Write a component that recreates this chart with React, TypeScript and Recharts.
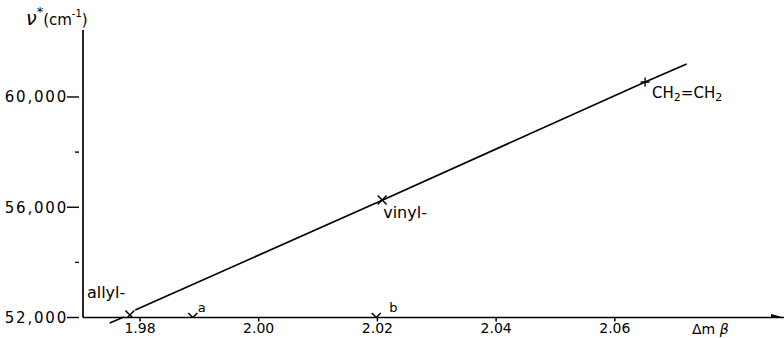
import {
  ComposedChart,
  Line,
  Scatter,
  XAxis,
  YAxis,
  ReferenceLine,
} from "recharts";

// correlation line (Δmβ vs ν*)
const curveX = [1.9792, 2.0209, 2.0651, 2.0721];
const curveY = [52272, 56263, 60544, 61197];

// marked compounds
const markNames = ["allyl-", "a", "b", "vinyl-", "CH2=CH2"];
const markX = [1.9783, 1.9889, 2.0198, 2.0208, 2.0651];
const markY = [52090, 52000, 52000, 56263, 60545];
const markSymbol = ["x", "x", "x", "x", "+"];

const xTicks = [1.98, 2.0, 2.02, 2.04, 2.06];
const yTicks = [52000, 56000, 60000];
const yMinorTicks = [54000, 58000];

const FONT = "'DejaVu Sans', sans-serif";

const curve = curveX.map((x, i) => ({ x, y: curveY[i] }));
const marks = markX.map((x, i) => ({
  x,
  y: markY[i],
  name: markNames[i],
  sym: markSymbol[i],
}));
const arrowTip = [{ x: 2.0885, y: 52000 }];

// label offsets from the marker, in px
const labelPos: Record<string, { dx: number; dy: number; size: number }> = {
  "allyl-": { dx: -43, dy: -17, size: 16 },
  a: { dx: 5, dy: -6, size: 13 },
  b: { dx: 13, dy: -6, size: 13 },
  "vinyl-": { dx: 1, dy: 18, size: 16 },
  "CH2=CH2": { dx: 7, dy: 16, size: 15 },
};

const MarkShape = (props: any) => {
  const { cx, cy, payload } = props;
  if (cx == null || cy == null) return null;
  const s = 4.5;
  const pos = labelPos[payload.name];
  const glyph =
    payload.sym === "+" ? (
      <g stroke="#000" strokeWidth={1.4}>
        <line x1={cx - s} y1={cy} x2={cx + s} y2={cy} />
        <line x1={cx} y1={cy - s} x2={cx} y2={cy + s} />
      </g>
    ) : (
      <g stroke="#000" strokeWidth={1.5}>
        <line x1={cx - s} y1={cy - s} x2={cx + s} y2={cy + s} />
        <line x1={cx - s} y1={cy + s} x2={cx + s} y2={cy - s} />
      </g>
    );
  let label;
  if (payload.name === "CH2=CH2") {
    label = (
      <text x={cx + pos.dx} y={cy + pos.dy} fontSize={pos.size} fontFamily={FONT} fill="#000">
        CH
        <tspan fontSize={11} dy={3}>2</tspan>
        <tspan dy={-3}>=CH</tspan>
        <tspan fontSize={11} dy={3}>2</tspan>
      </text>
    );
  } else {
    label = (
      <text x={cx + pos.dx} y={cy + pos.dy} fontSize={pos.size} fontFamily={FONT} fill="#000">
        {payload.name}
      </text>
    );
  }
  return (
    <g>
      {glyph}
      {label}
    </g>
  );
};

const ArrowShape = (props: any) => {
  const { cx, cy } = props;
  if (cx == null || cy == null) return null;
  return <path d={`M${cx},${cy} L${cx - 13},${cy - 3.5} L${cx - 13},${cy + 3.5} Z`} fill="#000" />;
};

const YTick = (props: any) => {
  const { x, y, payload } = props;
  const major = yTicks.includes(payload.value);
  const axisX = x + 4;
  return (
    <g>
      <line
        x1={axisX - (major ? 12 : 4)}
        y1={y}
        x2={axisX}
        y2={y}
        stroke="#000"
        strokeWidth={1.4}
      />
      {major && (
        <text
          x={axisX - 11}
          y={y}
          dy="0.36em"
          textAnchor="end"
          fontSize={15}
          fontFamily={FONT}
          letterSpacing={1.8}
          fill="#000"
        >
          {payload.value.toLocaleString("en-US")}
        </text>
      )}
    </g>
  );
};

const YTitle = () => (
  <text x={26} y={25} fontFamily={FONT} fontSize={15} fill="#000">
    <tspan fontSize={19} fontStyle="italic">ν</tspan>
    <tspan fontSize={13} dy={-9}>*</tspan>
    <tspan dy={9}>(cm</tspan>
    <tspan fontSize={10} dy={-8}>-1</tspan>
    <tspan dy={8}>)</tspan>
  </text>
);

const XTitle = (props: any) => {
  const vb = props.viewBox;
  return (
    <text x={vb.x + 609} y={vb.y + 16} fontFamily={FONT} fontSize={14} fill="#000">
      Δm <tspan fontStyle="italic">β</tspan>
    </text>
  );
};

export default function App() {
  return (
    <div style={{ position: "absolute", left: 0, top: 0, background: "#fff" }}>
      <ComposedChart
        width={784}
        height={338}
        margin={{ top: 30, right: 0, bottom: 0, left: 0 }}
      >
        <XAxis
          type="number"
          dataKey="x"
          domain={[1.9704, 2.0885]}
          ticks={xTicks}
          interval={0}
          tickFormatter={(v: number) => v.toFixed(2)}
          height={20.5}
          tickSize={4}
          tickMargin={2}
          stroke="#000"
          strokeWidth={1.5}
          tick={{ fill: "#000", fontSize: 14, fontFamily: FONT }}
          allowDataOverflow
          label={<XTitle />}
        />
        <YAxis
          type="number"
          dataKey="y"
          domain={[52000, 62430]}
          ticks={[...yTicks, ...yMinorTicks].sort((a, b) => a - b)}
          interval={0}
          width={83}
          tickLine={false}
          stroke="#000"
          strokeWidth={1.7}
          tick={<YTick />}
          allowDataOverflow
        />
        <ReferenceLine
          segment={[
            { x: 1.9749, y: 51800 },
            { x: 1.9773, y: 52018 },
          ]}
          stroke="#000"
          strokeWidth={1.5}
          ifOverflow="visible"
        />
        <Line
          data={curve}
          dataKey="y"
          type="linear"
          stroke="#000"
          strokeWidth={1.7}
          dot={false}
          isAnimationActive={false}
        />
        <Scatter data={marks} dataKey="y" shape={<MarkShape />} isAnimationActive={false} />
        <Scatter data={arrowTip} dataKey="y" shape={<ArrowShape />} isAnimationActive={false} />
        <YTitle />
      </ComposedChart>
    </div>
  );
}
